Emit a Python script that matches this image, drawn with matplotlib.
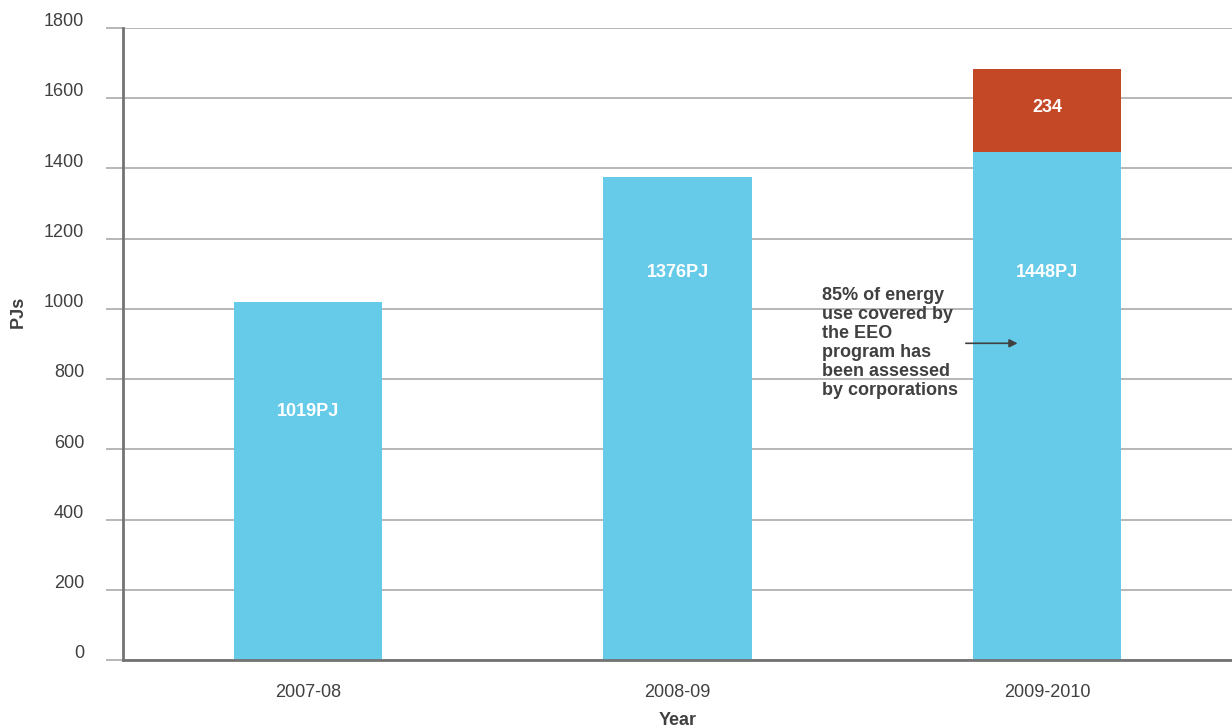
import matplotlib.pyplot as plt
import matplotlib.transforms as mtransforms

plt.rcParams['font.family'] = ['Liberation Sans', 'DejaVu Sans']

# Energy use assessed under the EEO program (PJ)
years = ['2007-08', '2008-09', '2009-2010']
assessed = [1019, 1376, 1448]
extra = [0, 0, 234]
bar_labels = ['1019PJ', '1376PJ', '1448PJ']
label_y = [709, 1105, 1105]

blue = '#66cbe8'
red = '#c44826'
text_col = '#404040'

fig = plt.figure(figsize=(12.32, 7.28), dpi=100)
ax = fig.add_axes([123 / 1232, 68 / 728, 1 - 123 / 1232, 632 / 728])

x = list(range(len(years)))
ax.bar(x, assessed, width=0.402, color=blue, zorder=2)
ax.bar(x, extra, width=0.402, bottom=assessed, color=red, zorder=2)

for xi, lab, ly in zip(x, bar_labels, label_y):
    ax.text(xi, ly, lab, color='white', fontsize=13, fontweight='bold',
            ha='center', va='center', zorder=3)
for xi, base, e in zip(x, assessed, extra):
    if e:
        ax.text(xi, base + e / 2 + 10, str(e), color='white', fontsize=13,
                fontweight='bold', ha='center', va='center', zorder=3)

# note next to the last bar
ax.text(1.39, 1063, '85% of energy\nuse covered by\nthe EEO\nprogram has\nbeen assessed\nby corporations',
        color=text_col, fontsize=13, fontweight='bold', ha='left', va='top',
        linespacing=1.15, zorder=3)
ax.annotate('', xy=(1.92, 902), xytext=(1.78, 902),
            arrowprops=dict(arrowstyle='-|>', color=text_col, lw=1.2,
                            mutation_scale=12, shrinkA=0, shrinkB=0),
            zorder=3)

ax.set_xlim(-0.5, 2.5)
ax.set_ylim(0, 1800)
ax.set_yticks(range(0, 1801, 200))
ax.set_xticks(x)
ax.set_xticklabels(years)

ax.grid(axis='y', color='#aaaaaa', linewidth=1.2, zorder=0)
ax.tick_params(axis='y', length=12, width=1.2, color='#aaaaaa', pad=16,
               labelsize=13, labelcolor=text_col)
ax.tick_params(axis='x', length=0, pad=17, labelsize=13, labelcolor=text_col)
offset = mtransforms.ScaledTranslation(0, 6 / 72, fig.dpi_scale_trans)
for lab in ax.get_yticklabels():
    lab.set_transform(lab.get_transform() + offset)

for side in ['top', 'right']:
    ax.spines[side].set_visible(False)
for side in ['left', 'bottom']:
    ax.spines[side].set_color('#737373')
    ax.spines[side].set_linewidth(2)

ax.set_xlabel('Year', fontsize=13, fontweight='bold', color=text_col, labelpad=8)
fig.text(18 / 1232, 1 - 312 / 728, 'PJs', rotation=90, fontsize=13,
         fontweight='bold', color=text_col, ha='center', va='center')

fig.savefig('out.png', dpi=100)
